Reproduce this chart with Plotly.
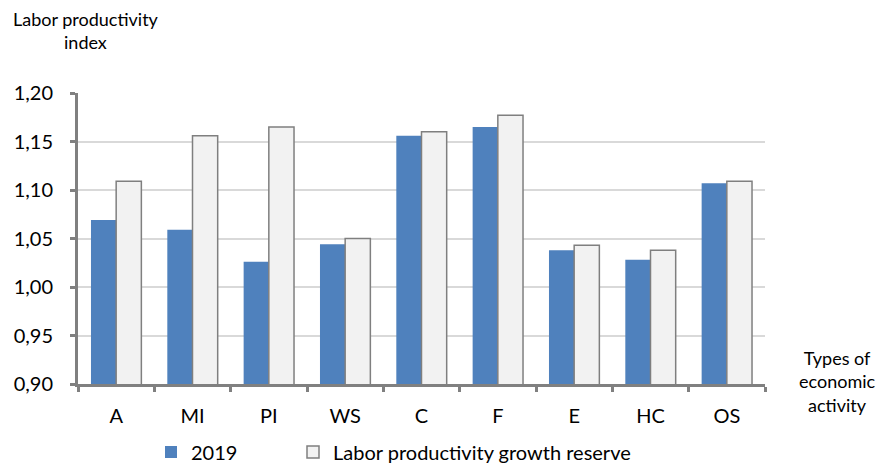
import plotly.graph_objects as go

categories = ["A", "MI", "PI", "WS", "C", "F", "E", "HC", "OS"]
values_2019 = [1.069, 1.059, 1.026, 1.044, 1.156, 1.165, 1.038, 1.028, 1.107]
values_reserve = [1.109, 1.156, 1.165, 1.050, 1.160, 1.177, 1.043, 1.038, 1.109]
y_ticks = [0.90, 0.95, 1.00, 1.05, 1.10, 1.15, 1.20]

FONT = "Lato"
L, R, T, B = 78, 765, 93, 384
PW, PH = R - L, B - T


def px(x):
    return (x - L) / PW


def py(y):
    return (B - y) / PH


fig = go.Figure()
fig.add_trace(go.Bar(
    x=categories, y=values_2019, name="2019", legend="legend",
    marker=dict(color="#4f81bd", line=dict(width=0)),
))
fig.add_trace(go.Bar(
    x=categories, y=values_reserve, name="Labor productivity growth reserve", legend="legend2",
    marker=dict(color="#f2f2f2", line=dict(color="#7f7f7f", width=1.5)),
))

legend_common = dict(orientation="h", xanchor="left", yanchor="middle",
                     font=dict(family=FONT, size=20), bgcolor="rgba(0,0,0,0)",
                     borderwidth=0)

fig.update_layout(
    width=882, height=464,
    margin=dict(l=L, r=882 - R, t=T, b=464 - B, autoexpand=False),
    paper_bgcolor="white", plot_bgcolor="white",
    separators=",.",
    barmode="group", bargap=0.34, bargroupgap=0.0,
    font=dict(family=FONT, size=20, color="#000000"),
    showlegend=True,
    legend=dict(x=px(151), y=py(452), **legend_common),
    legend2=dict(x=px(293), y=py(452), **legend_common),
    xaxis=dict(
        type="category", showline=True, linecolor="#808080", linewidth=3,
        ticks="outside", tickson="boundaries", ticklen=5, tickcolor="#808080", tickwidth=3,
        showgrid=False, tickfont=dict(family=FONT, size=20), ticklabelstandoff=12,
        fixedrange=True,
    ),
    yaxis=dict(
        range=[0.90, 1.20], tickvals=y_ticks, tickformat=".2f",
        showline=True, linecolor="#808080", linewidth=3,
        ticks="outside", ticklen=5, tickcolor="#808080", tickwidth=3,
        showgrid=True, gridcolor="#d9d9d9", gridwidth=1.5, zeroline=False,
        tickfont=dict(family=FONT, size=20), ticklabelstandoff=13,
    ),
    annotations=[
        dict(text="Labor productivity<br>index", x=px(86), y=py(30), xref="paper", yref="paper",
             showarrow=False, font=dict(family=FONT, size=18), align="center",
             xanchor="center", yanchor="middle"),
        dict(text="Types of<br>economic<br>activity", x=px(837), y=py(381), xref="paper", yref="paper",
             showarrow=False, font=dict(family=FONT, size=18), align="center",
             xanchor="center", yanchor="middle"),
    ],
)

fig.write_html("out.html")
